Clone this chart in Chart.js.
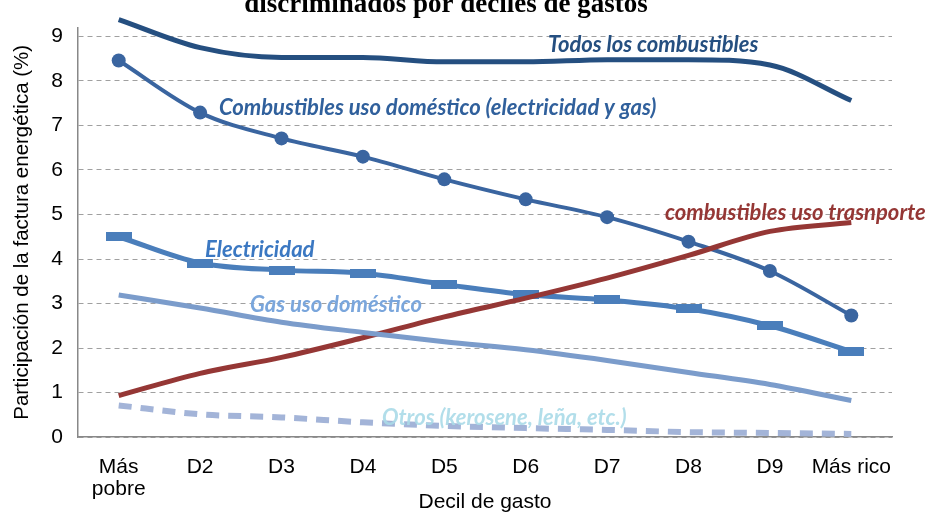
<!DOCTYPE html>
<html>
<head>
<meta charset="utf-8">
<script src="https://cdn.jsdelivr.net/npm/chart.js@4.4.1/dist/chart.umd.min.js"></script>
<style>
  html, body { margin: 0; padding: 0; background: #fff; }
  #wrap { width: 930px; height: 515px; position: relative; }
</style>
</head>
<body>
<div id="wrap"><canvas id="chart"></canvas></div>
<script>
// ========== DATA ========== //
const deciles = [["Más", "pobre"], "D2", "D3", "D4", "D5", "D6", "D7", "D8", "D9", "Más rico"];
const yTicks = [0, 1, 2, 3, 4, 5, 6, 7, 8, 9];
const todosCombustibles = [9.38, 8.75, 8.53, 8.53, 8.43, 8.43, 8.48, 8.48, 8.36, 7.56];
const usoDomestico = [8.46, 7.29, 6.71, 6.3, 5.79, 5.34, 4.94, 4.39, 3.73, 2.73];
const electricidad = [4.5, 3.91, 3.75, 3.68, 3.43, 3.2, 3.08, 2.88, 2.5, 1.92];
const gasDomestico = [3.19, 2.9, 2.58, 2.35, 2.14, 1.96, 1.72, 1.45, 1.18, 0.82];
const transporte = [0.93, 1.43, 1.79, 2.23, 2.7, 3.12, 3.57, 4.08, 4.62, 4.82];
const otros = [0.71, 0.51, 0.44, 0.33, 0.25, 0.2, 0.16, 0.11, 0.09, 0.07];

const tickFont = "'Liberation Sans', Arial, sans-serif";
const labelFont = "Lato, 'Open Sans', sans-serif";

// flat bar marker used by Excel for "Electricidad"
function barMarker(color) {
  const c = document.createElement("canvas");
  c.width = 26; c.height = 9;
  const g = c.getContext("2d");
  g.fillStyle = color;
  g.fillRect(0, 0, 26, 9);
  return c;
}

// ========== IN-CHART LABELS + TITLE ========== //
const seriesLabels = [
  { text: "Todos los combustibles", x: 548, y: 45, color: "#254f80" },
  { text: "Combustibles uso doméstico (electricidad y gas)", x: 219, y: 108, color: "#30609c" },
  { text: "combustibles uso trasnporte", x: 665, y: 213, color: "#953735" },
  { text: "Electricidad", x: 205, y: 250, color: "#3b78c2" },
  { text: "Gas uso doméstico", x: 250, y: 305, color: "#7aa6dc" },
  { text: "Otros (kerosene, leña, etc.)", x: 382, y: 418, color: "rgba(170, 218, 232, 0.9)" }
];

const labelPlugin = {
  id: "labels",
  afterDatasetsDraw(chart) {
    const ctx = chart.ctx;
    ctx.save();
    ctx.textBaseline = "middle";
    ctx.textAlign = "left";
    ctx.font = "italic bold 22px " + labelFont;
    seriesLabels.forEach(l => {
      ctx.fillStyle = l.color;
      ctx.fillText(l.text, l.x, l.y);
    });
    // title, cut off at the top like the original
    ctx.font = "bold 27px 'Liberation Serif', 'DejaVu Serif', serif";
    ctx.textAlign = "center";
    ctx.textBaseline = "alphabetic";
    ctx.fillStyle = "#000";
    ctx.fillText("discriminados por deciles de gastos", 446, 12);
    ctx.restore();
  }
};

// ========== CHART ========== //
const common = { fill: false, cubicInterpolationMode: "monotone", clip: false };

new Chart(document.getElementById("chart").getContext("2d"), {
  type: "line",
  data: {
    labels: deciles,
    datasets: [
      { ...common, label: "Otros (kerosene, leña, etc.)", data: otros,
        borderColor: "#a3b4d8", borderWidth: 6, borderDash: [13, 9], pointRadius: 0 },
      { ...common, label: "Gas uso doméstico", data: gasDomestico,
        borderColor: "#7b9ccb", borderWidth: 5, pointRadius: 0 },
      { ...common, label: "combustibles uso trasnporte", data: transporte,
        borderColor: "#953735", borderWidth: 5, pointRadius: 0 },
      { ...common, label: "Electricidad", data: electricidad,
        borderColor: "#4a7ebb", borderWidth: 5,
        pointStyle: barMarker("#4a7ebb"), pointRadius: 5 },
      { ...common, label: "Combustibles uso doméstico (electricidad y gas)", data: usoDomestico,
        borderColor: "#3a65a0", backgroundColor: "#3a65a0", borderWidth: 4,
        pointStyle: "circle", pointRadius: 7, pointBorderWidth: 0 },
      { ...common, label: "Todos los combustibles", data: todosCombustibles,
        borderColor: "#254f80", borderWidth: 5, pointRadius: 0 }
    ]
  },
  options: {
    responsive: true,
    maintainAspectRatio: false,
    animation: false,
    layout: { padding: { top: 9, right: 38, left: 0, bottom: 0 } },
    plugins: {
      legend: { display: false },
      title: { display: false },
      tooltip: { enabled: false }
    },
    scales: {
      x: {
        offset: true,
        grid: { display: false, drawTicks: false },
        border: { color: "#888", width: 1.5 },
        ticks: { color: "#000", font: { family: tickFont, size: 21, lineHeight: 1.05 }, padding: 19, maxRotation: 0, autoSkip: false },
        title: { display: true, text: "Decil de gasto", color: "#000", font: { family: tickFont, size: 21 }, padding: { top: 0, bottom: 0 } },
        afterFit(axis) { axis.height = 78; }
      },
      y: {
        min: 0,
        max: 9.2,
        grid: { color: "#a0a0a0", lineWidth: 1, drawTicks: false },
        border: { color: "#888", width: 1.5, dash: [5, 4] },
        ticks: { color: "#000", font: { family: tickFont, size: 21 }, padding: 15 },
        afterBuildTicks(axis) { axis.ticks = yTicks.map(v => ({ value: v })); },
        title: { display: true, text: "Participación de la factura energética (%)", color: "#000", font: { family: tickFont, size: 20.5 }, padding: { top: 10, bottom: 0 } },
        afterFit(axis) { axis.width = 78; }
      }
    }
  },
  plugins: [labelPlugin]
});
</script>
</body>
</html>
